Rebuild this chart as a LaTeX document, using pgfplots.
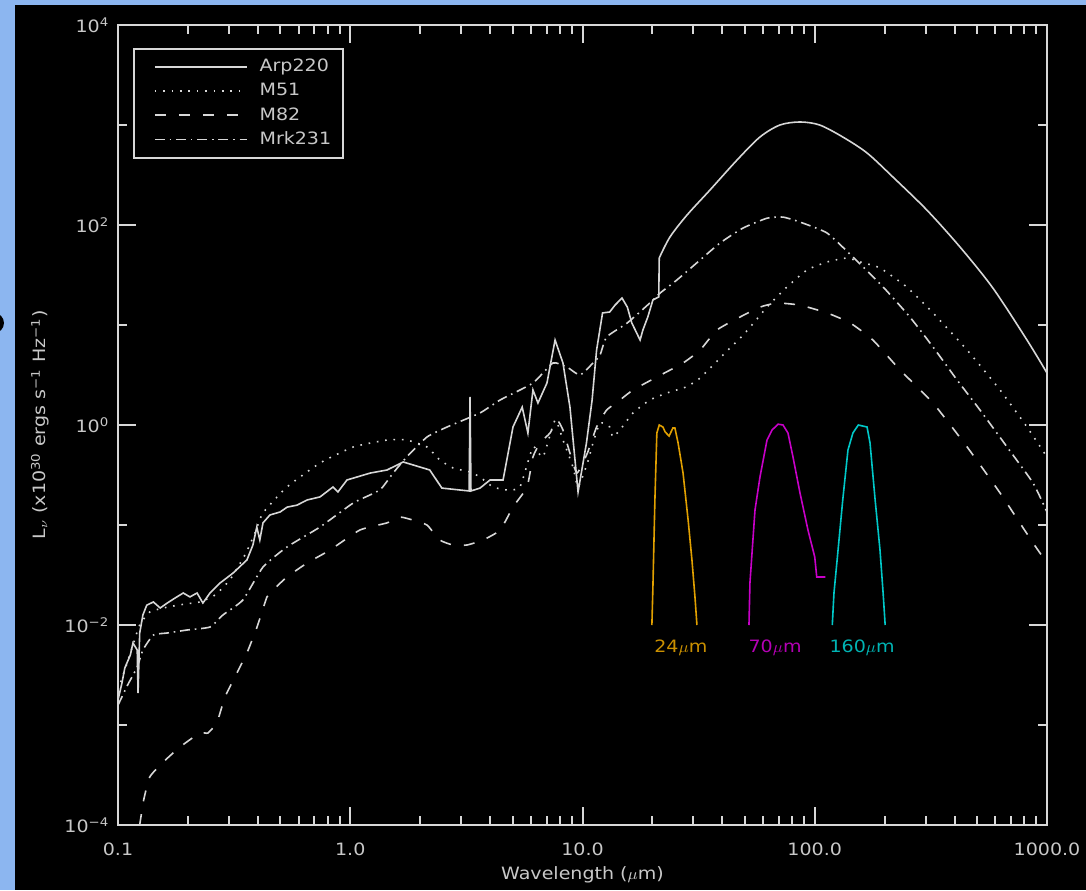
\documentclass[border=0pt]{standalone}
\usepackage{fontspec}
\setmainfont{DejaVu Sans}[FakeStretch=1.12]
\usepackage{pgfplots}
\pgfplotsset{compat=1.18}
\definecolor{slideblue}{RGB}{140,182,240}
\definecolor{fg}{RGB}{215,215,215}
\definecolor{txt}{RGB}{200,200,200}
\definecolor{f24}{RGB}{225,160,0}
\definecolor{f70}{RGB}{200,0,200}
\definecolor{f160}{RGB}{0,200,200}
\begin{document}
\begin{tikzpicture}[x=0.5pt,y=0.5pt]
\useasboundingbox (0,0) rectangle (1086,890);
\fill[slideblue] (0,0) rectangle (1086,890);
\fill[black] (15,0) rectangle (1086,885);
\begin{scope}
\clip (0,0) rectangle (15,890);
\fill[black] (-6,567) circle (10);
\end{scope}
\begin{axis}[
  at={(59pt,32.5pt)}, anchor=south west,
  width=464.5pt, height=400pt, scale only axis,
  xmode=log, ymode=log,
  xmin=0.1, xmax=1000, ymin=1e-4, ymax=1e4,
  xtick={0.1,1,10,100,1000},
  xticklabels={0.1,1.0,10.0,100.0,1000.0},
  minor xtick={0.2,0.3,0.4,0.5,0.6,0.7,0.8,0.9,2,3,4,5,6,7,8,9,20,30,40,50,60,70,80,90,200,300,400,500,600,700,800,900},
  ytick={1e-4,1e-2,1,1e2,1e4},
  yticklabels={10\textsuperscript{−4},10\textsuperscript{−2},10\textsuperscript{0},10\textsuperscript{2},10\textsuperscript{4}},
  minor ytick={1e-3,1e-1,10,1e3},
  major tick length=9pt, minor tick length=4.5pt,
  axis line style={fg, line width=1pt},
  every tick/.style={fg, line width=1pt},
  tick label style={txt, font=\fontsize{8.5}{10}\selectfont},
  xticklabel style={anchor=center, yshift=-12.25pt},
  yticklabel style={anchor=east, xshift=-0.8pt},
  label style={txt, font=\fontsize{8.5}{10}\selectfont},
  xlabel={Wavelength ($\mu$m)},
  ylabel={L$_\nu$ (x10\textsuperscript{30} ergs s\textsuperscript{−1} Hz\textsuperscript{−1})},
  xlabel style={at={(axis description cs:0.5,-0.0625)}, anchor=center},
  ylabel style={at={(axis description cs:-0.084,0.5)}, anchor=center},
  legend style={at={(axis description cs:0.01615,0.97125)}, anchor=north west,
    fill=black, draw=fg, line width=1pt, text=txt,
    font=\fontsize{8.5}{10}\selectfont, row sep=0.35pt, column sep=4pt,
    inner xsep=4pt, inner ysep=3pt},
  legend cell align=left,
  legend image code/.code={\path (0pt,0pt); \draw[#1] (6pt,0pt) -- (52pt,0pt);},
  every axis plot/.append style={line width=0.8pt, no markers},
]
% Arp220 (near/mid-IR part)
\addplot[fg, solid, sharp plot] coordinates {
(0.100,1.78e-3)(0.104,2.63e-3)(0.107,3.72e-3)(0.113,5.01e-3)(0.116,6.61e-3)
(0.121,5.62e-3)(0.122,2.09e-3)(0.124,8.32e-3)(0.128,1.26e-2)(0.133,1.58e-2)
(0.142,1.70e-2)(0.152,1.48e-2)(0.163,1.66e-2)(0.176,1.86e-2)(0.191,2.09e-2)
(0.204,1.91e-2)(0.219,2.09e-2)(0.232,1.66e-2)(0.249,2.09e-2)(0.275,2.63e-2)
(0.313,3.31e-2)(0.359,4.47e-2)(0.381,6.31e-2)(0.396,9.55e-2)(0.408,7.08e-2)
(0.421,0.105)(0.451,0.126)(0.499,0.135)(0.535,0.151)(0.590,0.158)
(0.652,0.178)(0.741,0.191)(0.843,0.240)(0.885,0.214)(0.968,0.282)
(1.22,0.331)(1.44,0.355)(1.69,0.427)(2.20,0.355)(2.48,0.234)
(3.25,0.219)(3.28,1.91)(3.31,0.219)(3.62,0.234)(4.00,0.282)
(4.55,0.282)(5.02,0.955)(5.50,1.51)(5.82,0.832)(6.12,2.24)
(6.43,1.66)(7.03,2.63)(7.62,7.08)(8.24,4.17)(8.83,1.51)
(9.57,0.214)(10.4,0.661)(11.0,1.78)(11.5,5.62)(12.2,13.2)
(13.1,13.5)(13.8,15.8)(14.8,18.6)(15.6,15.1)(16.3,10.5)
(17.7,7.08)(18.2,8.91)(19.1,12.0)(20.1,17.8)(21.3,19.1)(21.4,46.8)
};
\addlegendentry{Arp220}
% M51
\addplot[fg, dash pattern=on 0.8pt off 3.4pt, smooth, tension=0.3] coordinates {
(0.100,2.24e-3)(0.107,3.55e-3)(0.116,6.31e-3)(0.124,1.00e-2)(0.137,1.35e-2)
(0.163,1.51e-2)(0.194,1.62e-2)(0.225,1.70e-2)(0.262,2.00e-2)(0.303,2.82e-2)
(0.352,5.01e-2)(0.389,8.32e-2)(0.421,0.132)(0.534,0.240)(0.741,0.417)
(1.03,0.603)(1.44,0.708)(1.75,0.708)(2.14,0.603)(2.43,0.447)
(2.77,0.372)(3.28,0.339)(3.62,0.302)(4.12,0.240)(4.73,0.224)
(5.38,0.240)(6.12,0.603)(6.76,0.479)(7.62,1.12)(8.24,0.708)
(9.10,0.380)(9.57,0.240)(10.5,0.417)(11.1,0.661)(11.9,1.05)
(13.1,0.955)(13.5,0.759)(14.5,0.891)(16.5,1.32)(19.5,1.78)
(23.1,2.09)(27.9,2.40)(32.1,2.95)(41.1,5.25)(50.1,8.32)
(62.3,15.1)(75.9,24.0)(92.6,35.5)(113,42.7)(138,46.8)
(157,42.7)(191,37.2)(249,24.0)(323,13.2)(453,5.62)
(628,2.24)(820,0.955)(1000,0.479)
};
\addlegendentry{M51}
% M82
\addplot[fg, dash pattern=on 5.5pt off 6.5pt, smooth, tension=0.3] coordinates {
(0.124,1.00e-4)(0.129,1.78e-4)(0.137,3.02e-4)(0.155,4.17e-4)(0.185,6.03e-4)
(0.225,8.32e-4)(0.244,8.32e-4)(0.267,1.07e-3)(0.289,1.91e-3)(0.325,3.31e-3)
(0.359,5.25e-3)(0.397,9.55e-3)(0.438,1.91e-2)(0.465,2.24e-2)(0.534,3.02e-2)
(0.652,4.17e-2)(0.818,5.62e-2)(1.10,8.91e-2)(1.44,0.105)(1.64,0.120)
(1.86,0.112)(2.14,0.100)(2.43,7.08e-2)(2.77,6.31e-2)(3.18,6.31e-2)
(3.73,7.08e-2)(4.42,8.91e-2)(5.02,0.151)(5.77,0.240)(6.12,0.479)
(6.56,0.661)(7.25,0.832)(7.77,1.12)(8.24,0.891)(8.83,0.525)
(9.47,0.331)(10.5,0.525)(11.5,0.955)(12.7,1.41)(14.5,1.78)
(16.5,2.24)(20.9,3.02)(27.1,4.17)(32.1,5.62)(37.9,8.91)
(47.6,12.0)(58.1,15.1)(68.7,16.6)(86.4,15.8)(113,13.2)
(142,10.5)(178,7.08)(233,3.55)(323,1.66)(453,0.603)
(628,0.209)(871,6.61e-2)(1000,4.17e-2)
};
\addlegendentry{M82}
% Mrk231
\addplot[fg, dash pattern=on 5pt off 2.4pt on 0.8pt off 2.4pt, smooth, tension=0.3] coordinates {
(0.100,1.58e-3)(0.110,2.51e-3)(0.121,3.80e-3)(0.128,5.62e-3)(0.142,7.94e-3)
(0.163,8.32e-3)(0.198,8.91e-3)(0.249,9.55e-3)(0.283,1.26e-2)(0.345,1.78e-2)
(0.421,3.80e-2)(0.534,6.03e-2)(0.741,9.55e-2)(1.03,0.166)(1.34,0.224)
(1.53,0.331)(1.75,0.479)(2.14,0.759)(2.61,0.955)(3.62,1.32)
(4.42,1.78)(6.12,2.63)(7.46,4.17)(8.57,3.80)(9.75,3.16)
(11.1,4.17)(11.9,5.01)(12.7,7.59)(15.6,10.5)(19.5,16.6)
(21.6,20.9)(25.5,28.2)(32.1,44.7)(39.1,66.1)(49.1,93.3)
(62.3,117)(73.0,120)(86.4,107)(113,83.2)(146,47.9)
(197,24.0)(257,12.0)(323,6.03)(410,2.82)(515,1.41)
(673,0.603)(871,0.263)(1000,0.135)
};
\addlegendentry{Mrk231}
% Arp220 (far-IR part)
\addplot[fg, solid, smooth, tension=0.5, forget plot] coordinates {
(21.4,46.8)(23.8,75.9)(28.2,126)(35.4,224)(46.3,447)
(58.1,759)(70.8,1000)(86.4,1072)(105,1000)(132,759)
(168,525)(217,302)(304,141)(422,60.3)(585,23.4)(820,7.08)(1000,3.31)
};
% filters
\addplot[f24, solid, forget plot] coordinates {
(19.9,0.01)(20.1,0.024)(20.5,0.178)(20.9,0.832)(21.4,1.0)(22.2,0.955)
(22.7,0.851)(23.6,0.776)(24.5,0.933)(25.0,0.933)(25.8,0.661)(27.1,0.331)
(28.5,0.112)(29.6,0.0447)(30.5,0.0191)(31.1,0.01)
};
\addplot[f70, solid, forget plot] coordinates {
(52.1,0.01)(52.6,0.0263)(55.3,0.141)(58.1,0.302)(62.3,0.708)(65.5,0.891)
(69.5,1.02)(73.0,1.0)(76.7,0.832)(80.6,0.479)(86.4,0.209)(93.5,0.0891)
(100,0.0479)(102,0.0302)(111,0.0302)
};
\addplot[f160, solid, forget plot] coordinates {
(119,0.01)(121,0.0209)(126,0.0562)(132,0.178)(139,0.562)(146,0.832)
(154,1.0)(168,0.955)(173,0.661)(182,0.178)(191,0.0562)(197,0.0209)(201,0.01)
};
\node[text=f24!90!black, font=\fontsize{8.5}{10}\selectfont] at (axis cs:26.5,5.89e-3) {24$\mu$m};
\node[text=f70!90!black, font=\fontsize{8.5}{10}\selectfont] at (axis cs:67.5,5.89e-3) {70$\mu$m};
\node[text=f160!90!black, font=\fontsize{8.5}{10}\selectfont] at (axis cs:160,5.89e-3) {160$\mu$m};
\end{axis}
\end{tikzpicture}
\end{document}
